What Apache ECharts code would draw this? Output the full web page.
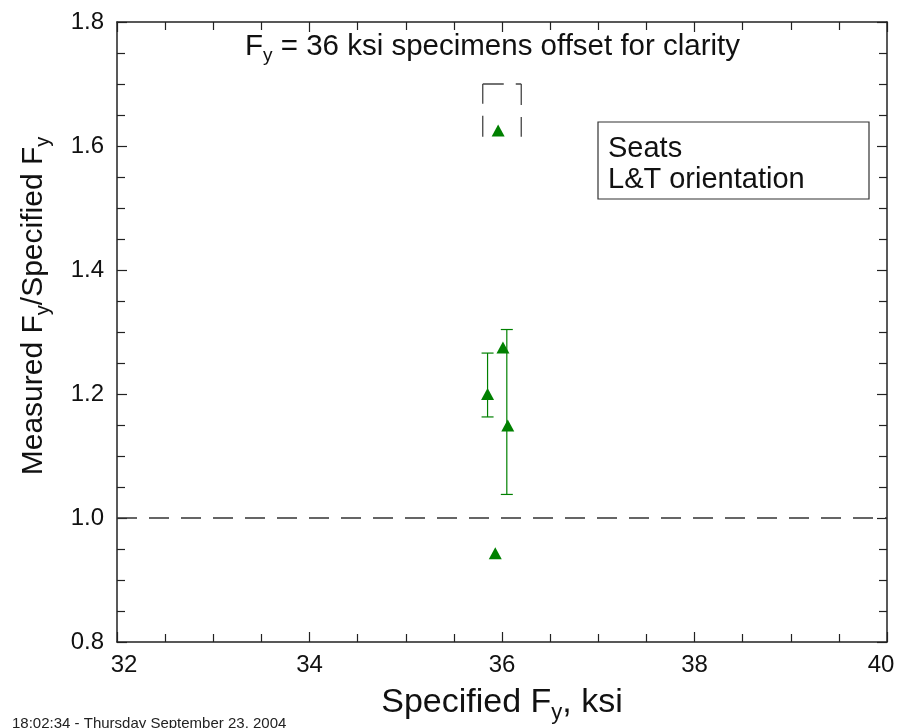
<!DOCTYPE html>
<html><head><meta charset="utf-8">
<script src="https://cdn.jsdelivr.net/npm/echarts@6/dist/echarts.min.js"></script>
<style>html,body{margin:0;padding:0;background:#fff}#c{width:908px;height:728px}</style>
</head><body><div id="c"></div>
<script>
// ---- data ----
const specimenX = [35.85, 36.01, 36.06, 35.93, 35.96];
const ratioY    = [1.200, 1.275, 1.149, 0.943, 1.625];
const errX    = [35.85, 36.05];
const errLow  = [1.163, 1.038];
const errHigh = [1.266, 1.304];
const refLineX = [32, 40];
const refLineY = [1.0, 1.0];
const offsetBoxX = [35.8, 36.2];
const offsetBoxY = [1.615, 1.70];
const xRange = [32, 40, 2];
const yRange = [0.8, 1.8, 0.2];
const titleText = ['F', 'y', ' = 36 ksi specimens offset for clarity'];
const legendLines = ['Seats', 'L&T orientation'];
const footnote = '18:02:34 - Thursday September 23, 2004';

const FONT = "'Liberation Sans', Arial, Helvetica, sans-serif";
const AX = '#222';
const GREEN = '#008000';

const chart = echarts.init(document.getElementById('c'), null, {renderer: 'canvas'});

function axisCommon(showLabel) {
  return {
    axisLine: {show: true, onZero: false, lineStyle: {color: AX, width: 1.5}},
    axisTick: {show: true, inside: true, length: 10, lineStyle: {color: AX, width: 1.2}},
    minorTick: {show: true, splitNumber: 4, length: 8, lineStyle: {color: AX, width: 1.2}},
    splitLine: {show: false},
    minorSplitLine: {show: false},
    axisLabel: {show: showLabel, color: '#111', fontSize: 24, fontFamily: FONT}
  };
}

function richSub(fs, ss, lh) {
  return {
    f: {fontSize: fs, fontFamily: FONT, fontWeight: 'normal', color: '#111', lineHeight: lh, verticalAlign: 'middle'},
    s: {fontSize: ss, fontFamily: FONT, fontWeight: 'normal', color: '#111', lineHeight: ss + 2, verticalAlign: 'bottom'}
  };
}

const boxSegments = [
  [[offsetBoxX[0], offsetBoxY[0]], [offsetBoxX[0], offsetBoxY[1]]],
  [[offsetBoxX[0], offsetBoxY[1]], [offsetBoxX[1], offsetBoxY[1]]],
  [[offsetBoxX[1], offsetBoxY[1]], [offsetBoxX[1], offsetBoxY[0]]]
];

const option = {
  animation: false,
  backgroundColor: '#fff',
  title: {
    text: '{f|' + titleText[0] + '}{s|' + titleText[1] + '}{f|' + titleText[2] + '}',
    left: 245, top: 28, padding: 0,
    textStyle: {fontWeight: 'normal', rich: richSub(29.5, 19, 37)}
  },
  grid: {left: 117, right: 21, top: 22, bottom: 86, containLabel: false, outerBoundsMode: 'none'},
  xAxis: [
    Object.assign({
      type: 'value', position: 'bottom', min: xRange[0], max: xRange[1], interval: xRange[2],
      name: '{f|Specified F}{s|y}{f|, ksi}', nameLocation: 'middle', nameGap: 40,
      nameTextStyle: {rich: richSub(34, 22, 42)}
    }, axisCommon(true), {axisLabel: {show: true, color: '#111', fontSize: 24, fontFamily: FONT, margin: 11,
      formatter: v => v === xRange[0] ? '{l|' + v + '}' : (v === xRange[1] ? '{r|' + v + '}' : '' + v),
      rich: {
        l: {fontSize: 24, fontFamily: FONT, color: '#111', padding: [0, 0, 0, 14]},
        r: {fontSize: 24, fontFamily: FONT, color: '#111', padding: [0, 12, 0, 0]}
      }}}),
    Object.assign({
      type: 'value', position: 'top', min: xRange[0], max: xRange[1], interval: xRange[2]
    }, axisCommon(false))
  ],
  yAxis: [
    Object.assign({
      type: 'value', position: 'left', min: yRange[0], max: yRange[1], interval: yRange[2],
      name: '{f|Measured F}{s|y}{f|/Specified F}{s|y}', nameLocation: 'middle', nameGap: 64,
      nameTextStyle: {rich: richSub(30, 20, 38), padding: [0, 0, 0, 52]}
    }, axisCommon(true), {axisLabel: {show: true, color: '#111', fontSize: 24, fontFamily: FONT, margin: 13,
      formatter: v => v.toFixed(1)}}),
    Object.assign({
      type: 'value', position: 'right', min: yRange[0], max: yRange[1], interval: yRange[2]
    }, axisCommon(false))
  ],
  graphic: [
    {type: 'rect', shape: {x: 598, y: 122, width: 271, height: 77},
     style: {fill: '#fff', stroke: '#333', lineWidth: 1.2}, z: 10},
    {type: 'text', x: 608, y: 134, z: 11,
     style: {text: legendLines[0], fontSize: 29, fontFamily: FONT, fill: '#111', verticalAlign: 'top'}},
    {type: 'text', x: 608, y: 165, z: 11,
     style: {text: legendLines[1], fontSize: 29, fontFamily: FONT, fill: '#111', verticalAlign: 'top'}},
    {type: 'text', x: 12, y: 716, z: 11,
     style: {text: footnote, fontSize: 15, fontFamily: FONT, fill: '#222', verticalAlign: 'top'}}
  ],
  series: [
    {
      type: 'line', name: 'ref', data: refLineX.map((x, i) => [x, refLineY[i]]),
      symbol: 'none', silent: true, z: 2,
      lineStyle: {color: '#333', width: 1.3, type: [20, 12]}
    }
  ].concat(boxSegments.map(seg => ({
      type: 'line', data: seg, symbol: 'none', silent: true, z: 2,
      lineStyle: {color: '#444', width: 1.3, type: [21, 12]}
  }))).concat([
    {
      type: 'custom', name: 'err', z: 3,
      data: errX.map((x, i) => [x, errLow[i], errHigh[i]]),
      encode: {x: 0, y: [1, 2]},
      renderItem: function (params, api) {
        const x = api.value(0), lo = api.value(1), hi = api.value(2);
        const pH = api.coord([x, hi]), pL = api.coord([x, lo]);
        const hw = 6;
        const st = {stroke: GREEN, lineWidth: 1.2};
        return {type: 'group', children: [
          {type: 'line', shape: {x1: pH[0], y1: pH[1], x2: pL[0], y2: pL[1]}, style: st},
          {type: 'line', shape: {x1: pH[0] - hw, y1: pH[1], x2: pH[0] + hw, y2: pH[1]}, style: st},
          {type: 'line', shape: {x1: pL[0] - hw, y1: pL[1], x2: pL[0] + hw, y2: pL[1]}, style: st}
        ]};
      }
    },
    {
      type: 'scatter', name: 'Seats', z: 5,
      data: specimenX.map((x, i) => [x, ratioY[i]]),
      symbol: 'triangle', symbolSize: [13, 12],
      itemStyle: {color: GREEN, opacity: 1}
    }
  ])
};
chart.setOption(option);
</script></body></html>
